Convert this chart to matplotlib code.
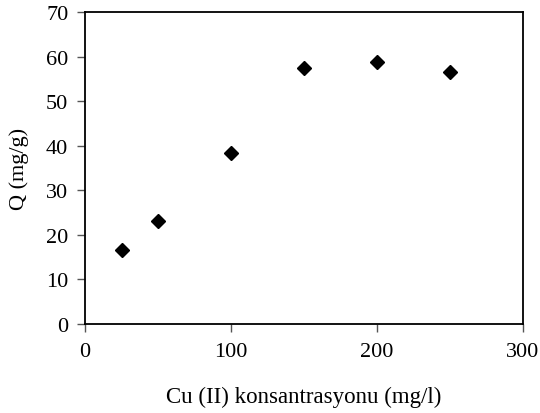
import matplotlib
matplotlib.use('Agg')
import matplotlib.pyplot as plt

# Cu(II) adsorption data
konsantrasyon = [25, 50, 100, 150, 200, 250]
Q = [16.6, 23.2, 38.4, 57.4, 58.8, 56.5]

x_ticks = [0, 100, 200, 300]
y_ticks = [0, 10, 20, 30, 40, 50, 60, 70]

plt.rcParams['font.family'] = ['Liberation Serif', 'DejaVu Serif']

fig = plt.figure(figsize=(5.4, 4.14), dpi=100)
ax = fig.add_axes([85 / 540, 1 - 325 / 414, 438 / 540, 312 / 414])

ax.plot(konsantrasyon, Q, linestyle='none', marker='D', markersize=7,
        color='black', clip_on=False)

ax.set_xlim(0, 300)
ax.set_ylim(0, 70)
ax.set_xticks(x_ticks)
ax.set_yticks(y_ticks)
ax.tick_params(direction='out', length=6, width=1, color='#555555', labelsize=16)
ax.tick_params(axis='x', pad=7)
ax.tick_params(axis='y', pad=6)
for s in ax.spines.values():
    s.set_linewidth(1.3)

ax.set_xlabel('Cu (II) konsantrasyonu (mg/l)', fontsize=16.5, va='center')
ax.xaxis.set_label_coords(0.5, (325 - 397) / 312)
ax.set_ylabel('Q (mg/g)', fontsize=16, va='center')
ax.yaxis.set_label_coords((19 - 85) / 438, 0.5)

fig.savefig('out.png', dpi=100)
